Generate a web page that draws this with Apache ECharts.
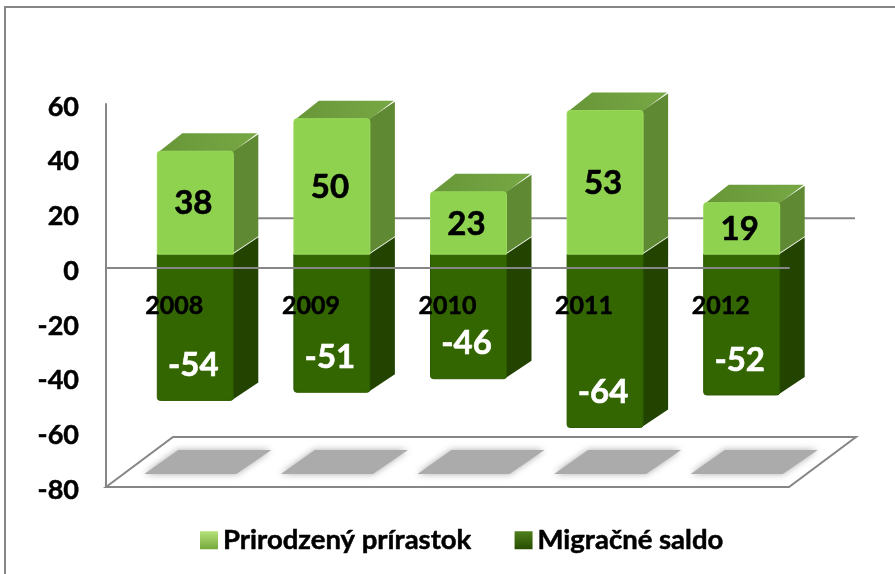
<!DOCTYPE html>
<html>
<head>
<meta charset="utf-8">
<style>
  html, body { margin: 0; padding: 0; background: #fff; }
  #chart { width: 895px; height: 574px; }
</style>
</head>
<body>
<div id="chart"></div>
<script src="https://cdn.jsdelivr.net/npm/echarts@6/dist/echarts.min.js"></script>
<script>
const years = ['2008', '2009', '2010', '2011', '2012']
const natural = [38, 50, 23, 53, 19]
const migration = [-54, -51, -46, -64, -52]
const yMin = -80
const yMax = 60
const yStep = 20

const FONT = 'Lato, "Open Sans", sans-serif'
const AXIS_GRAY = '#868686'

// fake 3d: where the bar sits in the floor, and how deep things go
const BAR_W = 76
const BAR_SHIFT = [21, -14]
const BAR_DEPTH = [25, -18]
const BAR_SCALE = 0.99 // bars stand further back than the axis plane
const FLOOR_DEPTH = [67, -50]

function barRenderer(palette, labelColor) {
  return (params, api) => {
    const idx = api.value(0)
    const val = api.value(1)
    const [cx, y0] = api.coord([idx, 0])
    const yv = api.coord([idx, val])[1]
    const left = cx + BAR_SHIFT[0] - BAR_W / 2
    const right = left + BAR_W
    const base = y0 + BAR_SHIFT[1]
    const end = base + (yv - y0) * BAR_SCALE
    const top = Math.min(base, end)
    const h = Math.abs(end - base)
    const [dx, dy] = BAR_DEPTH
    const children = [
      {
        type: 'polygon',
        shape: { points: [[right - 2, top + 1], [right + dx, top + dy + 1], [right + dx, top + dy + h], [right - 2, top + h]] },
        style: { fill: palette.side },
      },
    ]
    if (val > 0) {
      children.push({
        type: 'polygon',
        shape: { points: [[left + 1, top + 1], [left + dx, top + dy], [right + dx - 1, top + dy], [right - 1, top + 1]] },
        style: {
          fill: new echarts.graphic.LinearGradient(0, 1, 1, 0, [
            { offset: 0, color: palette.topA },
            { offset: 1, color: palette.topB },
          ]),
        },
      })
    }
    children.push({
      type: 'rect',
      shape: { x: left, y: top, width: BAR_W, height: h, r: val > 0 ? [3, 3, 0, 0] : [0, 0, 3, 3] },
      style: { fill: palette.front, stroke: palette.edge, lineWidth: 1 },
    })
    children.push({
      type: 'text',
      style: {
        text: String(val),
        x: left + BAR_W / 2 - 2,
        y: val > 0 ? top + h / 2 + 1 : top + h - 35,
        align: 'center',
        verticalAlign: 'middle',
        font: 'bold 33px ' + FONT,
        fill: labelColor,
        stroke: labelColor,
        lineWidth: 0.6,
      },
    })
    return { type: 'group', children }
  }
}

function floorRenderer(params, api) {
  const idx = api.value(0)
  const sys = params.coordSys
  const cx = api.coord([idx, 0])[0]
  const floorY = api.coord([idx, yMin])[1]
  const zeroY = api.coord([idx, 0])[1]
  const [dx, dy] = FLOOR_DEPTH
  const children = []
  // one floor and back line is enough, do it on the first item
  if (idx === 0) {
    const l = sys.x
    const r = sys.x + sys.width
    children.push({
      type: 'polygon',
      shape: { points: [[l, floorY], [l + dx, floorY + dy], [r + dx, floorY + dy], [r, floorY]] },
      style: { fill: '#fff', stroke: AXIS_GRAY, lineWidth: 2 },
    })
    children.push({
      type: 'line',
      shape: { x1: l + dx, y1: zeroY + dy, x2: r + dx - 1, y2: zeroY + dy },
      style: { stroke: AXIS_GRAY, lineWidth: 2 },
    })
  }
  children.push({
    type: 'polygon',
    shape: {
      points: [
        [cx - 30, floorY - 13],
        [cx + 4, floorY - 37],
        [cx + 97, floorY - 37],
        [cx + 62, floorY - 13],
      ],
    },
    style: { fill: '#ababab', shadowBlur: 7, shadowColor: '#ababab' },
  })
  return { type: 'group', children }
}

const legendIcon = (a, b) =>
  new echarts.graphic.LinearGradient(0, 0, 0, 1, [
    { offset: 0, color: a },
    { offset: 1, color: b },
  ])

const chart = echarts.init(document.getElementById('chart'))
chart.setOption({
  animation: false,
  backgroundColor: '#fff',
  graphic: [
    {
      type: 'rect',
      silent: true,
      shape: { x: 5, y: 7, width: 1000, height: 1000 },
      style: { fill: 'none', stroke: AXIS_GRAY, lineWidth: 2 },
      z: -1,
    },
  ],
  grid: { left: 106, top: 104, width: 683, height: 383 },
  legend: {
    data: [
      { name: 'Prirodzený prírastok', itemStyle: { color: legendIcon('#b4e27a', '#76a83c') } },
      { name: 'Migračné saldo', itemStyle: { color: legendIcon('#4f7f1c', '#274d00') } },
    ],
    left: 195,
    top: 521,
    icon: 'rect',
    itemWidth: 18,
    itemHeight: 18,
    itemGap: 43,
    textStyle: {
      fontFamily: FONT,
      fontWeight: 'bold',
      fontSize: 27.5,
      color: '#000',
      textBorderColor: '#000',
      textBorderWidth: 0.5,
    },
  },
  xAxis: {
    type: 'category',
    data: years,
    z: 10,
    // labels must sit under the zero line, so the whole axis is lifted there
    offset: -219,
    axisLine: { onZero: false, lineStyle: { color: AXIS_GRAY, width: 2 } },
    axisTick: { show: false },
    axisLabel: {
      margin: 25,
      fontFamily: FONT,
      fontWeight: 'bold',
      fontSize: 25,
      color: '#000',
      textBorderColor: '#000',
      textBorderWidth: 0.5,
    },
  },
  yAxis: {
    type: 'value',
    min: yMin,
    max: yMax,
    interval: yStep,
    axisLine: { show: true, lineStyle: { color: AXIS_GRAY, width: 2 } },
    axisTick: { show: false },
    splitLine: { show: false },
    axisLabel: {
      margin: 27,
      verticalAlign: 'top',
      lineHeight: 6,
      fontFamily: FONT,
      fontWeight: 'bold',
      fontSize: 27,
      color: '#000',
      textBorderColor: '#000',
      textBorderWidth: 0.5,
    },
  },
  series: [
    {
      name: 'floor',
      type: 'custom',
      z: 1,
      silent: true,
      renderItem: floorRenderer,
      data: years.map((y, i) => [i]),
      encode: { x: 0 },
    },
    {
      name: 'Migračné saldo',
      type: 'custom',
      z: 2,
      itemStyle: { color: '#336600' },
      renderItem: barRenderer(
        { front: '#336600', side: '#224400', edge: '#2c5a00' },
        '#fff',
      ),
      data: migration.map((v, i) => [i, v]),
      encode: { x: 0, y: 1 },
    },
    {
      name: 'Prirodzený prírastok',
      type: 'custom',
      z: 3,
      itemStyle: { color: '#92d050' },
      renderItem: barRenderer(
        { front: '#8fd24f', side: '#5f8a33', edge: '#9bd95c', topA: '#669637', topB: '#78a845' },
        '#000',
      ),
      data: natural.map((v, i) => [i, v]),
      encode: { x: 0, y: 1 },
    },
  ],
})
</script>
</body>
</html>
